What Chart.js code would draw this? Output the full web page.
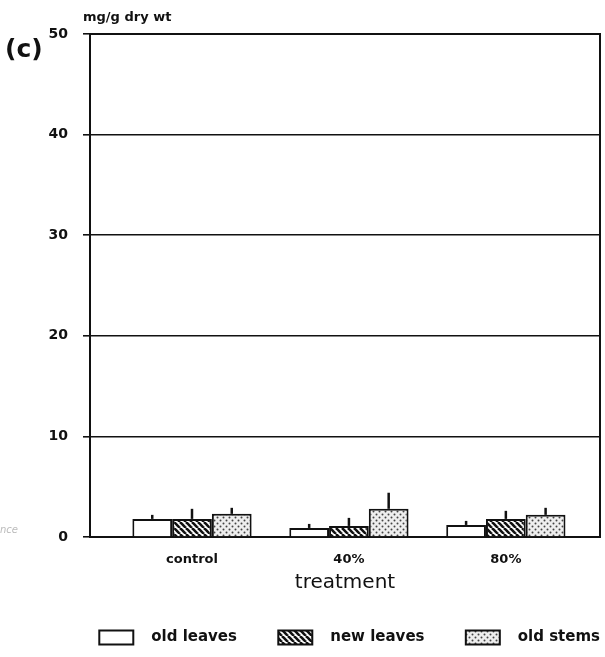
<!DOCTYPE html>
<html>
<head>
<meta charset="utf-8">
<script src="https://cdn.jsdelivr.net/npm/chart.js@4"></script>
<style>
  html, body { margin: 0; padding: 0; background: #fff; overflow: hidden; }
  #wrap { width: 605px; height: 657px; }
  canvas { display: block; }
</style>
</head>
<body>
<div id="wrap"><canvas id="nutChart"></canvas></div>
<script>
// data (c), mg/g dry wt
const treatments = ['control', '40%', '80%'];
const oldLeaves = [1.8, 0.9, 1.2];
const oldLeavesErr = [0.4, 0.4, 0.4];
const newLeaves = [1.8, 1.1, 1.8];
const newLeavesErr = [1.0, 0.8, 0.8];
const oldStems = [2.3, 2.8, 2.2];
const oldStemsErr = [0.6, 1.6, 0.7];
const yTicks = [0, 10, 20, 30, 40, 50];

const FONT = "'DejaVu Sans', 'Liberation Sans', sans-serif";

// fill patterns
function hatchPattern() {
    const c = document.createElement('canvas');
    c.width = 6; c.height = 6;
    const g = c.getContext('2d');
    g.fillStyle = '#fff';
    g.fillRect(0, 0, 6, 6);
    g.strokeStyle = '#111';
    g.lineWidth = 2.6;
    for (let k = -1; k <= 1; k++) {
        g.beginPath();
        g.moveTo(k * 6, 0);
        g.lineTo(k * 6 + 6, 6);
        g.stroke();
    }
    return g.createPattern(c, 'repeat');
}
function dotPattern() {
    const c = document.createElement('canvas');
    c.width = 6; c.height = 6;
    const g = c.getContext('2d');
    g.fillStyle = '#eeeeee';
    g.fillRect(0, 0, 6, 6);
    g.fillStyle = '#444';
    [[1.5, 1.5], [4.5, 4.5]].forEach(p => {
        g.beginPath();
        g.arc(p[0], p[1], 1, 0, Math.PI * 2);
        g.fill();
    });
    return g.createPattern(c, 'repeat');
}

const toPoints = arr => arr.map((v, i) => ({ x: i, y: v }));

// error bars, drawn from the y scale
const errorBars = {
    id: 'errorBars',
    afterDatasetsDraw(chart) {
        const { ctx, scales: { y } } = chart;
        ctx.save();
        ctx.strokeStyle = '#111';
        ctx.lineWidth = 2.5;
        chart.data.datasets.forEach((ds, di) => {
            const meta = chart.getDatasetMeta(di);
            meta.data.forEach((bar, i) => {
                const top = y.getPixelForValue(ds.data[i].y + ds.errors[i]);
                ctx.beginPath();
                ctx.moveTo(bar.x, bar.y);
                ctx.lineTo(bar.x, top);
                ctx.stroke();
            });
        });
        ctx.restore();
    }
};

// frame round the plot + the loose texts of the figure
const frame = {
    id: 'frame',
    afterLayout(chart) {
        // legend runs out to the right edge like in the scan
        chart.legend.right += 10;
    },
    afterDraw(chart) {
        const { ctx, chartArea: { left, top, right, bottom } } = chart;
        ctx.save();
        ctx.strokeStyle = '#111';
        ctx.lineWidth = 2;
        ctx.beginPath();
        ctx.moveTo(left, top);
        ctx.lineTo(right, top);
        ctx.lineTo(right, bottom);
        ctx.stroke();

        ctx.fillStyle = '#111';
        ctx.textBaseline = 'alphabetic';
        ctx.font = 'bold 13px ' + FONT;
        ctx.fillText('mg/g dry wt', left - 7, top - 13);
        ctx.font = 'bold 25px ' + FONT;
        ctx.fillText('(c)', 5, top + 23);
        ctx.fillStyle = '#bbb';
        ctx.font = 'italic 10px ' + FONT;
        ctx.fillText('nce', 0, bottom - 4);
        ctx.restore();
    }
};

new Chart(document.getElementById('nutChart'), {
    type: 'bar',
    data: {
        datasets: [
            {
                label: 'old leaves',
                data: toPoints(oldLeaves),
                errors: oldLeavesErr,
                backgroundColor: '#fff',
                borderColor: '#111',
                borderWidth: 2
            },
            {
                label: 'new leaves',
                data: toPoints(newLeaves),
                errors: newLeavesErr,
                backgroundColor: hatchPattern(),
                borderColor: '#111',
                borderWidth: 2
            },
            {
                label: 'old stems',
                data: toPoints(oldStems),
                errors: oldStemsErr,
                backgroundColor: dotPattern(),
                borderColor: '#111',
                borderWidth: 2
            }
        ]
    },
    options: {
        responsive: true,
        maintainAspectRatio: false,
        animation: false,
        datasets: {
            bar: {
                barPercentage: 1.0,
                categoryPercentage: 0.76
            }
        },
        layout: {
            padding: { top: 34, left: 2, right: 5, bottom: 2 }
        },
        plugins: {
            tooltip: { enabled: false },
            title: { display: false },
            legend: {
                display: true,
                position: 'bottom',
                align: 'end',
                labels: {
                    boxWidth: 34,
                    boxHeight: 14,
                    padding: 10,
                    color: '#111',
                    font: { family: FONT, size: 15, weight: 'bold' },
                    // gap between box and text, and between the items
                    generateLabels(chart) {
                        const items = Chart.defaults.plugins.legend.labels.generateLabels(chart);
                        items.forEach((it, i) => {
                            it.text = '  ' + it.text + (i < items.length - 1 ? '      ' : '');
                        });
                        return items;
                    }
                }
            }
        },
        scales: {
            x: {
                type: 'linear',
                offset: false,
                min: -0.65,
                max: 2.6,
                afterFit(scale) { scale.height = 83; },
                grid: { display: false },
                border: { display: true, color: '#111', width: 2 },
                ticks: {
                    stepSize: 1,
                    includeBounds: false,
                    padding: 7,
                    color: '#111',
                    font: { family: FONT, size: 13, weight: 'bold' },
                    callback: (v) => Number.isInteger(v) ? treatments[v] : ''
                },
                title: {
                    display: true,
                    text: 'treatment',
                    color: '#111',
                    padding: { top: 0, bottom: 25 },
                    font: { family: FONT, size: 20 }
                }
            },
            y: {
                min: 0,
                max: 50,
                afterFit(scale) { scale.width = 88; },
                afterBuildTicks(scale) { scale.ticks = yTicks.map(v => ({ value: v })); },
                grid: {
                    color: '#111',
                    lineWidth: 1.6,
                    drawTicks: true,
                    tickLength: 7
                },
                border: { display: true, color: '#111', width: 2 },
                ticks: {
                    padding: 15,
                    color: '#111',
                    font: { family: FONT, size: 14, weight: 'bold' }
                }
            }
        }
    },
    plugins: [errorBars, frame]
});
</script>
</body>
</html>
